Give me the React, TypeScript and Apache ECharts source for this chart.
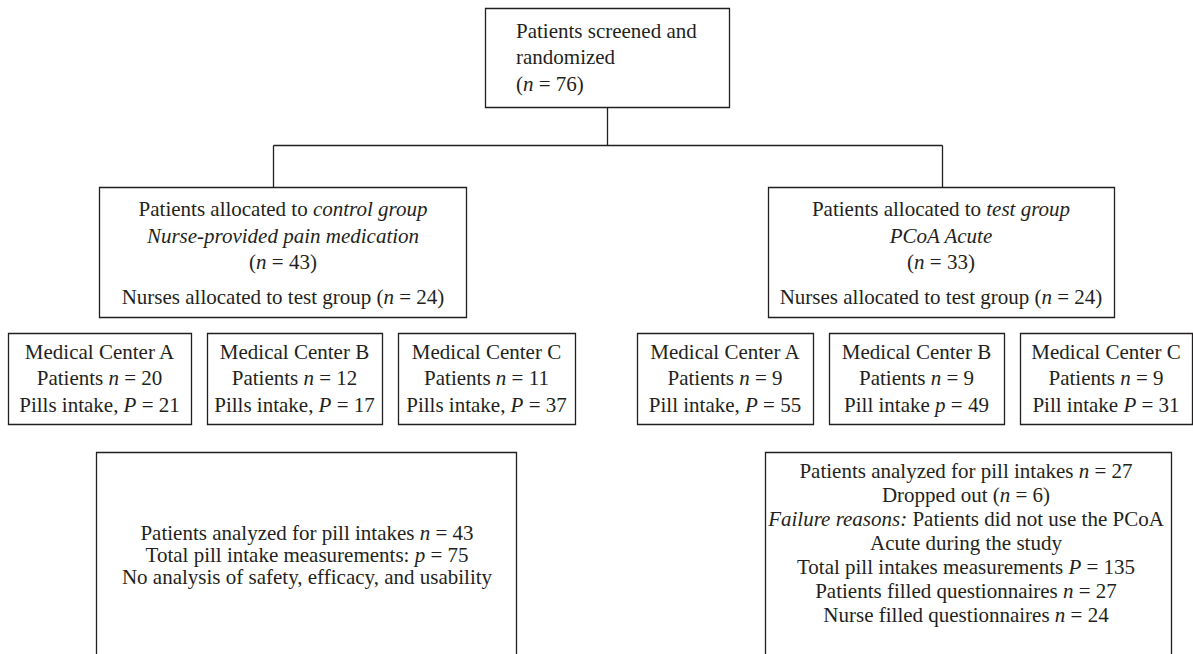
import React, { useEffect, useRef } from "react";
import * as echarts from "echarts";

// ---- Texts / counts of the flow diagram ----
const topLines = ["Patients screened and", "randomized", "({i|n} = 76)"];
const controlLines = [
  "Patients allocated to {i|control group}",
  "{i|Nurse-provided pain medication}",
  "({i|n} = 43)",
  "Nurses allocated to test group ({i|n} = 24)",
];
const testLines = [
  "Patients allocated to {i|test group}",
  "{i|PCoA Acute}",
  "({i|n} = 33)",
  "Nurses allocated to test group ({i|n} = 24)",
];
const centers = ["A", "B", "C"];
const controlPatients = [20, 12, 11];
const controlPills = [21, 17, 37];
const controlPillLabels = ["Pills intake, {i|P} = ", "Pills intake, {i|P} = ", "Pills intake, {i|P} = "];
const testPatients = [9, 9, 9];
const testPills = [55, 49, 31];
const testPillLabels = ["Pill intake, {i|P} = ", "Pill intake {i|p} = ", "Pill intake {i|P} = "];
const controlResultLines = [
  "Patients analyzed for pill intakes {i|n} = 43",
  "Total pill intake measurements: {i|p} = 75",
  "No analysis of safety, efficacy, and usability",
];
const testResultLines = [
  "Patients analyzed for pill intakes {i|n} = 27",
  "Dropped out ({i|n} = 6)",
  "{i|Failure reasons:} Patients did not use the PCoA",
  "Acute during the study",
  "Total pill intakes measurements {i|P} = 135",
  "Patients filled questionnaires {i|n} = 27",
  "Nurse filled questionnaires {i|n} = 24",
];

const INK = "#231f20";
const FONT = "'Liberation Serif', 'Times New Roman', serif";
const FS = 21;

function rect(x1: number, y1: number, x2: number, y2: number) {
  return {
    type: "rect",
    shape: { x: x1 + 0.5, y: y1 + 0.5, width: x2 - x1, height: y2 - y1 },
    style: { fill: "#fff", stroke: INK, lineWidth: 1.3 },
    z: 1,
  };
}
function line(x1: number, y1: number, x2: number, y2: number) {
  return {
    type: "line",
    shape: { x1: x1 + 0.5, y1: y1 + 0.5, x2: x2 + 0.5, y2: y2 + 0.5 },
    style: { stroke: INK, lineWidth: 1.3 },
    z: 0,
  };
}
function text(x: number, y: number, t: string, align: string = "center") {
  return {
    type: "text",
    x,
    y,
    z: 2,
    style: {
      text: t,
      fill: INK,
      fontSize: FS,
      fontFamily: FONT,
      align,
      textAlign: align,
      verticalAlign: "middle",
      textVerticalAlign: "middle",
      rich: {
        i: { fontStyle: "italic", fontSize: FS, fontFamily: FONT, fill: INK },
      },
    },
  };
}
function linesAt(cx: number, ys: number[], ls: string[], align = "center") {
  return ls.map((l, k) => text(cx, ys[k], l, align));
}

export default function App() {
  const ref = useRef<HTMLDivElement>(null);
  useEffect(() => {
    if (!ref.current) return;
    const chart = echarts.init(ref.current, undefined, { renderer: "svg" });
    const els: any[] = [];

    // connectors
    els.push(line(607, 107, 607, 145));
    els.push(line(273, 145, 942, 145));
    els.push(line(273, 145, 273, 187));
    els.push(line(942, 145, 942, 187));

    // top box
    els.push(rect(485, 8, 729, 107));
    els.push(...linesAt(516, [31, 57, 84], topLines, "left"));

    // group boxes
    const gy = [209, 236, 262, 297];
    els.push(rect(99, 187, 466, 317));
    els.push(...linesAt(283, gy, controlLines));
    els.push(rect(768, 187, 1114, 317));
    els.push(...linesAt(941, gy, testLines));

    // medical centers
    const my = [352, 378, 405];
    const leftX = [[8, 191], [207, 382], [398, 575]];
    const rightX = [[637, 813], [829, 1004], [1020, 1192]];
    centers.forEach((c, k) => {
      const [a, b] = leftX[k];
      els.push(rect(a, 333, b, 424));
      els.push(
        ...linesAt((a + b) / 2, my, [
          "Medical Center " + c,
          "Patients {i|n} = " + controlPatients[k],
          controlPillLabels[k] + controlPills[k],
        ])
      );
      const [a2, b2] = rightX[k];
      els.push(rect(a2, 333, b2, 424));
      els.push(
        ...linesAt((a2 + b2) / 2, my, [
          "Medical Center " + c,
          "Patients {i|n} = " + testPatients[k],
          testPillLabels[k] + testPills[k],
        ])
      );
    });

    // result boxes (they run past the bottom edge of the picture)
    els.push(rect(96, 452, 516, 660));
    els.push(...linesAt(307, [533, 555, 577], controlResultLines));
    els.push(rect(765, 452, 1171, 660));
    els.push(
      ...linesAt(966, testResultLines.map((_, k) => 471 + 24 * k), testResultLines)
    );

    chart.setOption({
      animation: false,
      backgroundColor: "#fff",
      graphic: { elements: els },
    });
    return () => chart.dispose();
  }, []);
  return (
    <div
      ref={ref}
      style={{ position: "fixed", left: 0, top: 0, width: 1193, height: 654, background: "#fff" }}
    />
  );
}
